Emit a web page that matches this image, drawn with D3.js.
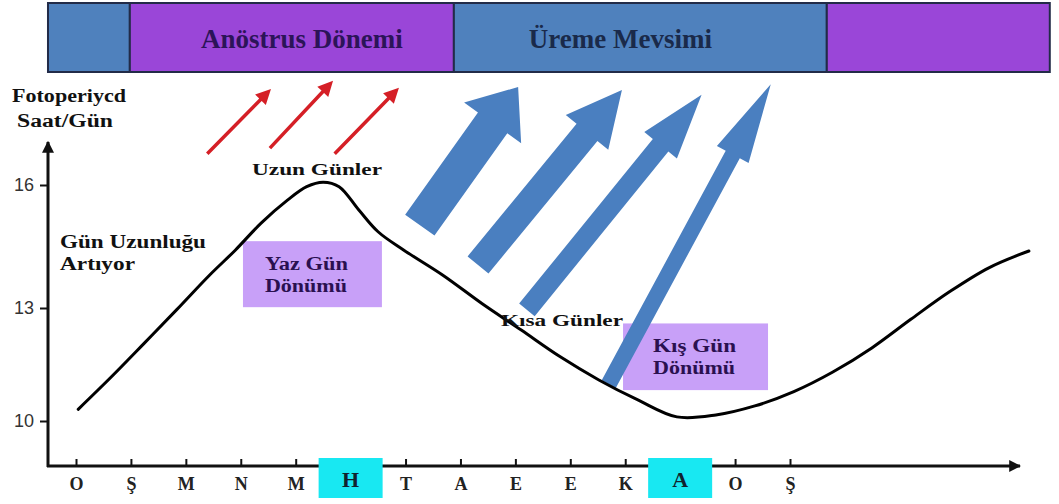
<!DOCTYPE html>
<html>
<head>
<meta charset="utf-8">
<script src="https://cdn.jsdelivr.net/npm/d3@7"></script>
<style>
	body { margin: 0; background: #fff; }
	svg { display: block; }
	.serif { font-family: "Liberation Serif", "Times New Roman", serif; font-weight: bold; }
</style>
</head>
<body>
<svg id="chart" width="1059" height="504"></svg>
<script>
// months (Ocak .. Şubat), the two solstice months are highlighted
var months = ["O", "Ş", "M", "N", "M", "H", "T", "A", "E", "E", "K", "A", "O", "Ş"];
var highlightMonths = [5, 11];
var yTicks = [10, 13, 16];

// photoperiod curve, month index vs hours of light
var curveMonth = [0.04, 0.65, 1.24, 1.83, 2.43, 2.90, 3.37, 3.85, 4.20, 4.50, 4.79, 5.15, 5.50, 5.97,
	6.68, 7.39, 8.10, 8.81, 9.52, 10.23, 10.94, 11.65, 12.36, 13.07, 13.78, 14.49, 15.20, 15.91, 16.62, 17.35];
var curveHours = [10.31, 11.18, 12.06, 12.95, 13.80, 14.41, 15.07, 15.63, 15.96, 16.07, 15.96, 15.39, 14.86, 14.41,
	13.80, 13.11, 12.42, 11.71, 11.09, 10.56, 10.11, 10.16, 10.40, 10.78, 11.30, 11.94, 12.70, 13.40, 13.98, 14.39];

// season bands on top, in month units
var periodNames = ["", "Anöstrus Dönemi", "Üreme Mevsimi", ""];
var periodStart = [-0.51, 0.98, 6.88, 13.67];
var periodEnd = [0.98, 6.88, 13.67, 17.73];

(function(){
	var svg = d3.select("#chart");

	var x = d3.scaleLinear().domain([0, 13]).range([76, 790]);
	var y = d3.scaleLinear().domain([10, 13, 16]).range([421, 308, 185]);
	var originX = 48, originY = 466;

	// ---- season banner
	var bandColor = ["#4f81bd", "#9a46d8", "#4f81bd", "#9a46d8"];
	var labelShift = [0, 10, -20, 0];
	var banner = svg.append("g");
	banner.selectAll("rect")
		.data(periodNames)
		.enter().append("rect")
			.attr("x", function(d, i){ return x(periodStart[i]); })
			.attr("y", 3)
			.attr("width", function(d, i){ return x(periodEnd[i]) - x(periodStart[i]); })
			.attr("height", 69)
			.attr("fill", function(d, i){ return bandColor[i]; })
			.attr("stroke", "#222b48")
			.attr("stroke-width", 2);
	banner.selectAll("text")
		.data(periodNames)
		.enter().append("text")
			.attr("class", "serif")
			.attr("x", function(d, i){ return (x(periodStart[i]) + x(periodEnd[i])) / 2 + labelShift[i]; })
			.attr("y", 48)
			.attr("text-anchor", "middle")
			.style("font-size", "27px")
			.attr("fill", function(d, i){ return i === 1 ? "#2c1458" : "#1a2a4a"; })
			.text(function(d){ return d; });

	// ---- annotation boxes (month / hours units)
	var boxes = [
		{m0: 3.04, m1: 5.57, h0: 14.63, h1: 13.02, pad: 22, lines: ["Yaz Gün", "Dönümü"]},
		{m0: 9.96, m1: 12.60, h0: 12.59, h1: 10.82, pad: 30, lines: ["Kış Gün", "Dönümü"]}
	];
	svg.append("g").selectAll("rect")
		.data(boxes)
		.enter().append("rect")
			.attr("x", function(d){ return x(d.m0); })
			.attr("y", function(d){ return y(d.h0); })
			.attr("width", function(d){ return x(d.m1) - x(d.m0); })
			.attr("height", function(d){ return y(d.h1) - y(d.h0); })
			.attr("fill", "#c8a0f8");

	// ---- arrows
	function arrowPoints(a, shaft, headW, headL){
		var x1 = x(a[0]), y1 = y(a[1]), x2 = x(a[2]), y2 = y(a[3]);
		var dx = x2 - x1, dy = y2 - y1, len = Math.sqrt(dx * dx + dy * dy);
		var ux = dx / len, uy = dy / len, px = -uy, py = ux;
		var bx = x2 - ux * headL, by = y2 - uy * headL;
		var pts = [
			[x1 + px * shaft / 2, y1 + py * shaft / 2],
			[bx + px * shaft / 2, by + py * shaft / 2],
			[bx + px * headW / 2, by + py * headW / 2],
			[x2, y2],
			[bx - px * headW / 2, by - py * headW / 2],
			[bx - px * shaft / 2, by - py * shaft / 2],
			[x1 - px * shaft / 2, y1 - py * shaft / 2]
		];
		return pts.map(function(p){ return p.join(","); }).join(" ");
	}
	var redArrows = [[2.39, 16.76, 3.55, 18.34], [3.53, 16.90, 4.68, 18.54], [4.71, 16.76, 5.88, 18.37]];
	var blueArrows = [
		{a: [6.26, 15.02, 8.05, 18.39], s: 36, w: 70, l: 44},
		{a: [7.32, 14.05, 9.94, 18.32], s: 27, w: 55, l: 55},
		{a: [8.21, 12.95, 11.39, 18.20], s: 20, w: 42, l: 65},
		{a: [9.70, 10.98, 12.65, 18.46], s: 16, w: 36, l: 80}
	];
	svg.append("g").selectAll("polygon")
		.data(redArrows)
		.enter().append("polygon")
			.attr("points", function(d){ return arrowPoints(d, 3.5, 15, 15); })
			.attr("fill", "#d51f26");
	svg.append("g").selectAll("polygon")
		.data(blueArrows)
		.enter().append("polygon")
			.attr("points", function(d){ return arrowPoints(d.a, d.s, d.w, d.l); })
			.attr("fill", "#4a7fc0");

	// ---- photoperiod curve
	var line = d3.line()
		.x(function(d){ return x(d); })
		.y(function(d, i){ return y(curveHours[i]); })
		.curve(d3.curveCatmullRom.alpha(0.5));
	svg.append("path")
		.attr("d", line(curveMonth))
		.attr("fill", "none")
		.attr("stroke", "#000")
		.attr("stroke-width", 3)
		.attr("stroke-linecap", "round");

	// ---- texts
	var labels = [
		{t: "Fotoperiycd", x: 12, y: 102, s: 18, w: 114, c: "#111"},
		{t: "Saat/Gün", x: 17, y: 127, s: 18, w: 96, c: "#111"},
		{t: "Gün Uzunluğu", x: 60, y: 248, s: 18, w: 146, c: "#111"},
		{t: "Artıyor", x: 60, y: 270, s: 18, w: 75, c: "#111"},
		{t: "Uzun Günler", x: 252, y: 175, s: 17, w: 130, c: "#111"},
		{t: "Kısa Günler", x: 501, y: 326, s: 17, w: 122, c: "#111"}
	];
	boxes.forEach(function(b){
		labels.push({t: b.lines[0], x: x(b.m0) + b.pad, y: y(b.h0) + 29, s: 18, w: 83, c: "#2a1050"});
		labels.push({t: b.lines[1], x: x(b.m0) + b.pad, y: y(b.h0) + 51, s: 18, w: 82, c: "#2a1050"});
	});
	svg.append("g").selectAll("text")
		.data(labels)
		.enter().append("text")
			.attr("class", "serif")
			.attr("x", function(d){ return d.x; })
			.attr("y", function(d){ return d.y; })
			.attr("textLength", function(d){ return d.w; })
			.attr("lengthAdjust", "spacingAndGlyphs")
			.style("font-size", function(d){ return d.s + "px"; })
			.attr("fill", function(d){ return d.c; })
			.text(function(d){ return d.t; });

	// ---- axes
	svg.append("defs").append("marker")
		.attr("id", "head")
		.attr("viewBox", "0 0 10 10")
		.attr("refX", 9).attr("refY", 5)
		.attr("markerWidth", 4).attr("markerHeight", 4)
		.attr("orient", "auto")
		.append("path").attr("d", "M0,0L10,5L0,10z").attr("fill", "#111");

	var yAxis = svg.append("g")
		.attr("transform", "translate(" + originX + ",0)")
		.call(d3.axisLeft(y).tickValues(yTicks).tickSize(8).tickPadding(6).tickFormat(d3.format("d")));
	yAxis.select(".domain").remove();
	yAxis.selectAll("line").attr("stroke", "#111").attr("stroke-width", 2);
	yAxis.selectAll("text")
		.style("font-family", "'Liberation Sans', Arial, sans-serif")
		.style("font-size", "18px")
		.attr("fill", "#333");

	var xAxis = svg.append("g")
		.attr("transform", "translate(0," + originY + ")")
		.call(d3.axisBottom(x).tickValues(d3.range(months.length)).tickSize(-7)
			.tickFormat(function(i){ return highlightMonths.indexOf(i) >= 0 ? "" : months[i]; }));
	xAxis.select(".domain").remove();
	xAxis.selectAll("line").attr("stroke", "#111").attr("stroke-width", 2);
	xAxis.selectAll("text")
		.attr("class", "serif")
		.attr("y", 24).attr("dy", null)
		.style("font-size", "18px")
		.attr("fill", "#222");

	svg.append("line")
		.attr("x1", originX).attr("y1", originY + 1)
		.attr("x2", originX).attr("y2", 142)
		.attr("stroke", "#111").attr("stroke-width", 3)
		.attr("marker-end", "url(#head)");
	svg.append("line")
		.attr("x1", originX - 1).attr("y1", originY)
		.attr("x2", 1020).attr("y2", originY)
		.attr("stroke", "#111").attr("stroke-width", 3)
		.attr("marker-end", "url(#head)");

	// ---- highlighted solstice months
	var hl = svg.append("g").selectAll("g")
		.data(highlightMonths)
		.enter().append("g")
			.attr("transform", function(d){ return "translate(" + x(d) + "," + originY + ")"; });
	hl.append("rect")
		.attr("x", -32).attr("y", -8)
		.attr("width", 64).attr("height", 40)
		.attr("fill", "#18e8f2");
	hl.append("text")
		.attr("class", "serif")
		.attr("y", 21)
		.attr("text-anchor", "middle")
		.style("font-size", "22px")
		.attr("fill", "#10222e")
		.text(function(d){ return months[d]; });
})();
</script>
</body>
</html>
